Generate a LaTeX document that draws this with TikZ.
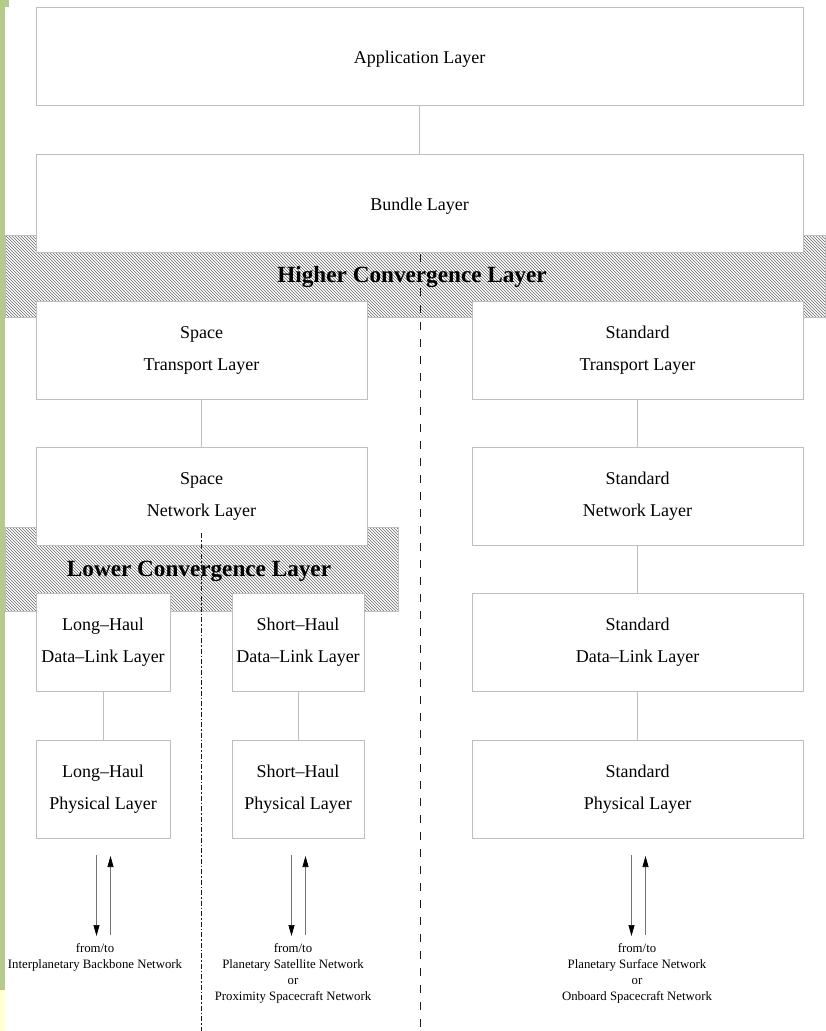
\documentclass[tikz,border=0pt]{standalone}
\usepackage{fontspec}
\setmainfont{Liberation Serif}
\usetikzlibrary{patterns,arrows.meta}
\definecolor{sidegreen}{RGB}{181,203,137}
\definecolor{sideyellow}{RGB}{255,255,210}
\definecolor{boxgray}{RGB}{190,190,190}
\tikzset{
  layerbox/.style={draw=boxgray, line width=1pt, fill=white, inner sep=0pt, align=center,
    font=\fontsize{18}{32}\selectfont, execute at begin node={\rule{0pt}{18pt}}},
  hatch/.style={pattern=north west lines, pattern color=black!60, draw=boxgray, line width=0.6pt},
  convtext/.style={font=\fontsize{23.2}{26}\selectfont\bfseries},
  link/.style={draw=boxgray, line width=0.8pt},
  flow/.style={draw=black!55, line width=0.7pt, -{Triangle[length=11pt,width=6pt,color=black]}},
  netlabel/.style={align=center, font=\fontsize{12.8}{16}\selectfont},
  splitA/.style={black!90, line width=1.8pt, dash pattern=on 7.5pt off 9.5pt},
  splitB/.style={black!90, line width=1.6pt, dash pattern=on 5pt off 2pt on 1.5pt off 2pt},
}
\begin{document}
\begin{tikzpicture}[x=1pt,y=-1pt]
\useasboundingbox (0,0) rectangle (825,1031);
% side bar
\fill[sidegreen] (0,0) rectangle (9,7);
\fill[sidegreen] (0,7) rectangle (5,990);
\fill[sideyellow] (0,990) rectangle (5,1031);
% hatched bands
\path[hatch] (5,235) rectangle (825,317);
\path[hatch] (5,527) rectangle (398,611);
% boxes
\node[layerbox, minimum width=767pt, minimum height=98pt] (app) at (419.5,56) {Application Layer};
\node[layerbox, minimum width=767pt, minimum height=98pt] (bundle) at (419.5,203) {Bundle Layer};
\node[layerbox, minimum width=331pt, minimum height=98pt] (sptr) at (201.5,350) {Space\\Transport Layer};
\node[layerbox, minimum width=331pt, minimum height=98pt] (spnet) at (201.5,496) {Space\\Network Layer};
\node[layerbox, minimum width=331pt, minimum height=98pt] (sttr) at (637.5,350) {Standard\\Transport Layer};
\node[layerbox, minimum width=331pt, minimum height=98pt] (stnet) at (637.5,496) {Standard\\Network Layer};
\node[layerbox, minimum width=331pt, minimum height=98pt] (stdl) at (637.5,642) {Standard\\Data{\textendash}Link Layer};
\node[layerbox, minimum width=331pt, minimum height=98pt] (stph) at (637.5,789) {Standard\\Physical Layer};
\node[layerbox, minimum width=134pt, minimum height=98pt] (lhdl) at (103,642) {Long{\textendash}Haul\\Data{\textendash}Link Layer};
\node[layerbox, minimum width=134pt, minimum height=98pt] (lhph) at (103,789) {Long{\textendash}Haul\\Physical Layer};
\node[layerbox, minimum width=132pt, minimum height=98pt] (shdl) at (298,642) {Short{\textendash}Haul\\Data{\textendash}Link Layer};
\node[layerbox, minimum width=132pt, minimum height=98pt] (shph) at (298,789) {Short{\textendash}Haul\\Physical Layer};
% convergence labels
\node[convtext] (hcl) at (412,277) {Higher Convergence Layer};
\node[convtext] (lcl) at (199,571) {Lower Convergence Layer};
% links
\draw[link] (app) -- (bundle);
\draw[link] (sptr) -- (spnet);
\draw[link] (sttr) -- (stnet);
\draw[link] (stnet) -- (stdl);
\draw[link] (stdl) -- (stph);
\draw[link] (lhdl) -- (lhph);
\draw[link] (shdl) -- (shph);
% split lines
\coordinate (sa1) at (420.5,254);
\coordinate (sa2) at (420.5,1031);
\coordinate (sb1) at (201.5,533);
\coordinate (sb2) at (201.5,1031);
\draw[splitA] (sa1) -- (sa2);
\draw[splitB] (sb1) -- (sb2);
% arrows and labels
\foreach \n/\x in {l/96.5, m/291.5, r/631.5}{
  \coordinate (\n d1) at (\x,855);
  \coordinate (\n d2) at (\x,936);
  \coordinate (\n u1) at (\x+14,935);
  \coordinate (\n u2) at (\x+14,856);
  \draw[flow] (\n d1) -- (\n d2);
  \draw[flow] (\n u1) -- (\n u2);
}
\node[netlabel, anchor=north] (lnet) at (95,940) {from/to\\Interplanetary Backbone Network};
\node[netlabel, anchor=north] (mnet) at (293,940) {from/to\\Planetary Satellite Network\\or\\Proximity Spacecraft Network};
\node[netlabel, anchor=north] (rnet) at (637,940) {from/to\\Planetary Surface Network\\or\\Onboard Spacecraft Network};
\end{tikzpicture}
\end{document}
